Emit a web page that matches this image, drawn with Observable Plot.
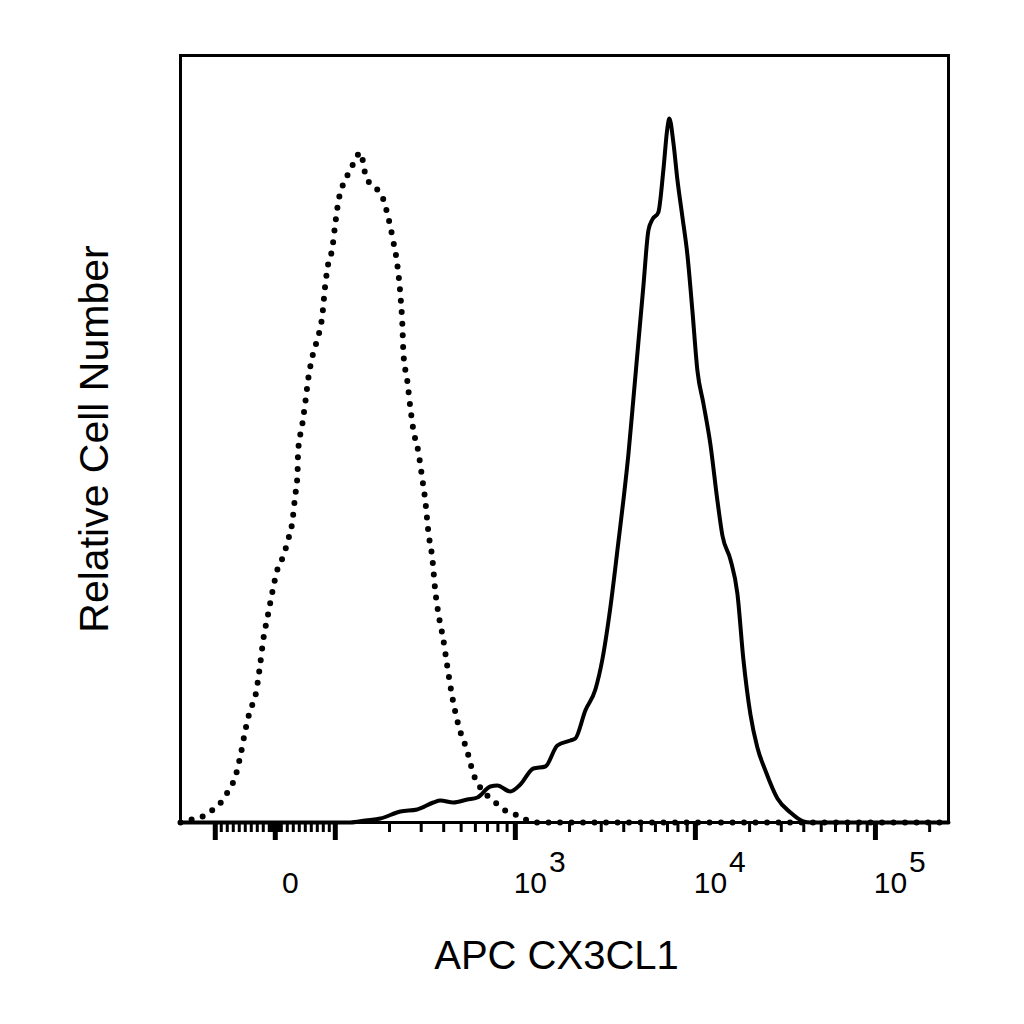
<!DOCTYPE html>
<html>
<head>
<meta charset="utf-8">
<script src="https://cdn.jsdelivr.net/npm/d3@7"></script>
<script src="https://cdn.jsdelivr.net/npm/@observablehq/plot@0.6"></script>
<style>
  html, body { margin: 0; padding: 0; background: #fff; }
  #chart svg { display: block; }
</style>
</head>
<body>
<div id="chart"></div>
<script>
// ---- Data (fluorescence intensity, relative count) ----
const isotypeX = [-156, -129, -114, -103, -88, -78, -67, -58, -50, -42, -33, -25, -20, -13, -5, 3, 13, 22, 28, 33, 37, 38, 45, 50, 55, 63, 72, 78, 83, 88, 95, 100, 104, 111, 121, 129, 138, 147, 161, 178, 195, 210, 221, 230, 236, 239, 251, 261, 271, 289, 304, 316, 329, 346, 359, 373, 398, 419, 447, 482, 541, 584, 664, 755, 858, 975, 1108, 1259, 254600];
const isotypeY = [0, 4, 7, 13, 22, 32, 45, 67, 92, 112, 127, 159, 183, 205, 230, 252, 266, 284, 299, 326, 348, 371, 398, 420, 444, 469, 487, 505, 536, 558, 574, 599, 621, 639, 652, 663, 670, 648, 636, 630, 608, 581, 558, 527, 496, 469, 442, 415, 393, 371, 344, 322, 290, 264, 232, 210, 183, 156, 125, 98, 71, 49, 31, 22, 13, 9, 4, 0, 0];

const stainedX = [-156, 121, 147, 178, 230, 285, 350, 383, 453, 541, 615, 726, 794, 938, 1066, 1259, 1468, 1711, 2020, 2154, 2448, 2783, 3043, 3371, 3733, 3981, 4245, 4527, 4823, 5141, 5482, 5768, 6224, 6637, 6985, 7170, 7546, 7943, 8464, 9025, 9623, 10260, 11080, 12120, 13250, 14130, 15650, 17110, 18480, 20220, 22090, 24480, 28560, 33710, 39810, 43550, 254600];
const stainedY = [0, 0, 2, 4, 11, 13, 20, 22, 20, 23, 25, 36, 37, 31, 38, 54, 56, 77, 82, 84, 112, 133, 163, 215, 280, 322, 368, 424, 480, 536, 592, 603, 610, 652, 694, 704, 680, 643, 606, 568, 512, 452, 419, 378, 322, 287, 263, 229, 163, 108, 75, 52, 24, 10, 1, 0, 0];

// ---- Axis ticks & labels ----
const majorTicks = [-100, 0, 100, 1000, 10000, 100000];
const minorTicks = [
  -90, -80, -70, -60, -50, -40, -30, -20, -10,
  -9, -8, -7, -6, -5, -4, -3, -2, -1, 1, 2, 3, 4, 5, 6, 7, 8, 9,
  10, 20, 30, 40, 50, 60, 70, 80, 90,
  200, 300, 400, 500, 600, 700, 800, 900,
  2000, 3000, 4000, 5000, 6000, 7000, 8000, 9000,
  20000, 30000, 40000, 50000, 60000, 70000, 80000, 90000,
  200000
];
const labelValues = [0, 1000, 10000, 100000];
const labelBase = ["0", "10", "10", "10"];
const labelExp = ["", "3", "4", "5"];
const xLabel = "APC CX3CL1";
const yLabel = "Relative Cell Number";

// biexponential-like display transform: linear within ±100, log beyond
const T = v => Math.abs(v) <= 100 ? v / 100 : Math.sign(v) * (1 + 3 * Math.log10(Math.abs(v) / 100));

const isotype = isotypeX.map((x, i) => ({x, y: isotypeY[i]}));
const stained = stainedX.map((x, i) => ({x, y: stainedY[i]}));
const labels = labelValues.map((v, i) => ({v, base: labelBase[i], exp: labelExp[i]}));

const font = "'Liberation Sans', Arial, Helvetica, sans-serif";

const chart = Plot.plot({
  width: 1024,
  height: 1024,
  marginLeft: 180,
  marginRight: 76,
  marginTop: 55,
  marginBottom: 202,
  style: {background: "#fff", fontFamily: font, color: "#000"},
  x: {domain: [T(-156), T(254600)], axis: null},
  y: {domain: [0, 767], axis: null},
  marks: [
    Plot.line(isotype, {
      x: d => T(d.x), y: "y", stroke: "#000", strokeWidth: 6,
      strokeDasharray: "0 11.5", strokeLinecap: "round", curve: "monotone-x"
    }),
    Plot.line(stained, {
      x: d => T(d.x), y: "y", stroke: "#000", strokeWidth: 4,
      strokeLinejoin: "round", curve: "monotone-x"
    }),
    Plot.frame({stroke: "#000", strokeWidth: 3}),
    Plot.axisX(minorTicks.map(T), {
      anchor: "bottom", tickSize: 10, strokeWidth: 3, tickFormat: () => "", label: null
    }),
    Plot.axisX(majorTicks.map(T), {
      anchor: "bottom", tickSize: 18, strokeWidth: 5, tickFormat: () => "", label: null
    }),
    Plot.text(labels, {
      x: d => T(d.v), text: "base", frameAnchor: "bottom",
      dx: 15, dy: 61, fontSize: 30, lineAnchor: "middle", textAnchor: "middle", fill: "#000"
    }),
    Plot.text(labels.filter(d => d.exp), {
      x: d => T(d.v), text: "exp", frameAnchor: "bottom",
      dx: 42, dy: 40, fontSize: 30, lineAnchor: "middle", textAnchor: "middle", fill: "#000"
    }),
    Plot.text([xLabel], {
      frameAnchor: "bottom", dx: -8, dy: 134, fontSize: 40,
      lineAnchor: "middle", textAnchor: "middle", fill: "#000"
    }),
    Plot.text([yLabel], {
      frameAnchor: "left", dx: -86, dy: 0, rotate: -90, fontSize: 41,
      lineAnchor: "middle", textAnchor: "middle", fill: "#000"
    })
  ]
});

document.getElementById("chart").appendChild(chart);
</script>
</body>
</html>
